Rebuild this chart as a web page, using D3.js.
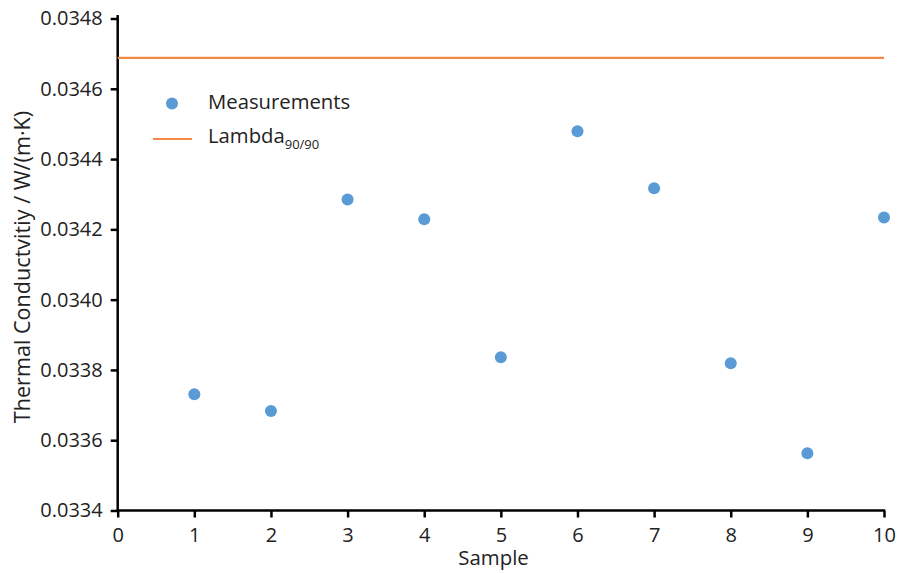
<!DOCTYPE html>
<html>
<head>
<meta charset="utf-8">
<script src="https://cdn.jsdelivr.net/npm/d3@7"></script>
<style>
	body { margin: 0; background: #fff; }
	text { font-family: "Open Sans", "Noto Sans", sans-serif; fill: #222; }
</style>
</head>
<body>
<svg width="903" height="573"></svg>
<script>
// Thermal conductivity measurements vs. lambda 90/90

var samples = [1, 2, 3, 4, 5, 6, 7, 8, 9, 10];
var measurements = [0.033731, 0.033683, 0.034285, 0.034229, 0.033836, 0.034479, 0.034317, 0.033819, 0.033563, 0.034234];
var lambda9090 = 0.034688;
var x_ticks = [0, 1, 2, 3, 4, 5, 6, 7, 8, 9, 10];
var y_ticks = [0.0334, 0.0336, 0.0338, 0.0340, 0.0342, 0.0344, 0.0346, 0.0348];

var svg_handle = d3.select("svg");

var x = d3.scaleLinear().domain([0, 10]).range([117.7, 884]);
var y = d3.scaleLinear().domain([0.0334, 0.0348]).range([510.5, 18.5]);

// axes
var x_axis = svg_handle.append("g")
	.attr("transform", "translate(0," + y(0.0334) + ")")
	.call(d3.axisBottom(x).tickValues(x_ticks).tickFormat(d3.format("d")).tickSize(7).tickSizeOuter(0));

var y_axis = svg_handle.append("g")
	.attr("transform", "translate(" + x(0) + ",0)")
	.call(d3.axisLeft(y).tickValues(y_ticks).tickFormat(d3.format(".4f")).tickSize(7).tickSizeOuter(0));

[x_axis, y_axis].forEach(a => {
	a.select(".domain").attr("stroke", "#000").attr("stroke-width", 2.5);
	a.selectAll(".tick line").attr("stroke", "#000").attr("stroke-width", 2.5);
	a.selectAll(".tick text").attr("font-size", 20).attr("fill", "#222");
});
x_axis.selectAll(".tick text").attr("y", 17);
y_axis.selectAll(".tick text").attr("x", -15);
y_axis.select(".domain").attr("d", "M0," + (y(0.0334) + 1.2) + "V15");
x_axis.select(".domain").attr("d", "M" + (x(0) - 1.2) + ",0H" + (x(10) + 1.2));

// lambda line
svg_handle.append("line")
	.attr("x1", x(0)).attr("x2", x(10))
	.attr("y1", y(lambda9090)).attr("y2", y(lambda9090))
	.attr("stroke", "#F28A48").attr("stroke-width", 2.2);

// points
svg_handle.append("g")
	.selectAll("circle")
	.data(samples)
	.enter().append("circle")
	.attr("cx", s => x(s))
	.attr("cy", (s, i) => y(measurements[i]))
	.attr("r", 6)
	.attr("fill", "#5B9BD5");

// legend
svg_handle.append("circle").attr("cx", 172).attr("cy", 103.5).attr("r", 6).attr("fill", "#5B9BD5");
svg_handle.append("text").attr("x", 208).attr("y", 108.5).attr("font-size", 20.3).text("Measurements");
svg_handle.append("line").attr("x1", 153).attr("x2", 192).attr("y1", 139).attr("y2", 139)
	.attr("stroke", "#F28A48").attr("stroke-width", 2.2);
var lam = svg_handle.append("text").attr("x", 208).attr("y", 143).attr("font-size", 20.3);
lam.append("tspan").text("Lambda");
lam.append("tspan").attr("font-size", 13).attr("dy", 6).text("90/90");

// axis titles
svg_handle.append("text")
	.attr("x", 493.5).attr("y", 565)
	.attr("text-anchor", "middle").attr("font-size", 20.4)
	.text("Sample");

svg_handle.append("text")
	.attr("transform", "translate(30,267) rotate(-90)")
	.attr("text-anchor", "middle").attr("font-size", 21.6)
	.text("Thermal Conductvitiy / W/(m·K)");
</script>
</body>
</html>
